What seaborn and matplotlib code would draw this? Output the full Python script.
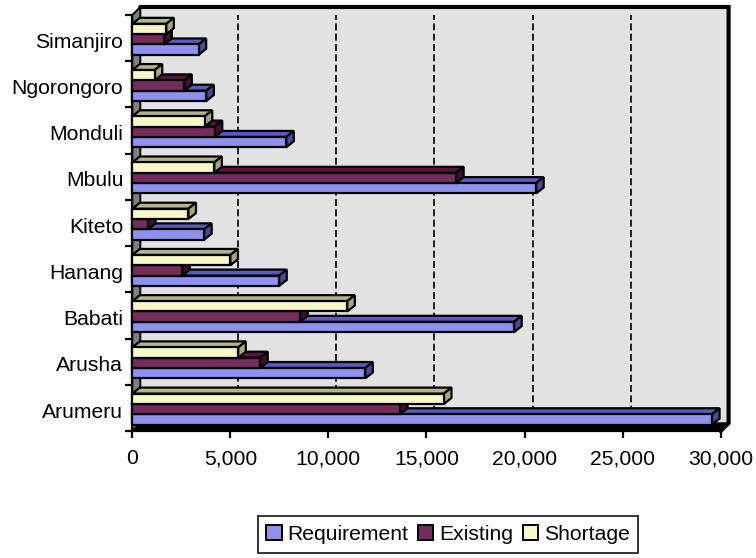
import matplotlib
matplotlib.use("Agg")
import matplotlib.pyplot as plt
from matplotlib.patches import Polygon
from matplotlib.ticker import FuncFormatter
from matplotlib.transforms import ScaledTranslation
import pandas as pd
import seaborn as sns

# Water demand per district
districts = ["Arumeru", "Arusha", "Babati", "Hanang", "Kiteto",
             "Mbulu", "Monduli", "Ngorongoro", "Simanjiro"]
requirement = [29560, 11880, 19470, 7490, 3660, 20590, 7850, 3770, 3380]
existing = [13650, 6520, 8560, 2550, 800, 16510, 4200, 2650, 1630]
shortage = [15890, 5400, 10960, 5000, 2860, 4180, 3690, 1140, 1733]
series_names = ["Requirement", "Existing", "Shortage"]
x_ticks = [0, 5000, 10000, 15000, 20000, 25000, 30000]

front_colors = ["#8080FF", "#802060", "#FFFFC0"]
top_colors = ["#5C5CB8", "#551540", "#B4B48C"]
side_colors = ["#4A4A9A", "#400F30", "#A6A67C"]

W, H = 756, 558
LEFT, RIGHT, TOP, BOTTOM = 132.3, 720.6, 15, 431
WALL_DEPTH = 8.0
BAR_DX, BAR_DY = 7.6, 6.0
BAR_SHIFT = 1.2
EDGE = 1.6
FONT = 15.2

sns.set_theme(style="white")
plt.rcParams["font.family"] = ["Liberation Sans", "DejaVu Sans"]
plt.rcParams["text.color"] = "black"

frame = pd.DataFrame({
    "District": districts * 3,
    "Series": sum(([n] * len(districts) for n in series_names), []),
    "Value": requirement + existing + shortage,
})

fig = plt.figure(figsize=(W / 100, H / 100), dpi=100)
ax = fig.add_axes([LEFT / W, 1 - BOTTOM / H, (RIGHT - LEFT) / W, (BOTTOM - TOP) / H])

sns.barplot(data=frame, y="District", x="Value", hue="Series", order=districts,
            hue_order=series_names, palette=front_colors, orient="h", width=0.67,
            gap=0, edgecolor="black", linewidth=EDGE, errorbar=None, ax=ax, zorder=3)

ax.set_xlim(0, 30000)
ax.set_ylim(-0.5, len(districts) - 0.5)
ax.set_xlabel("")
ax.set_ylabel("")

# Pixel-to-data scale factors for the oblique projection
ux = 30000 / (RIGHT - LEFT)
uy = len(districts) / (BOTTOM - TOP)
wx, wy = WALL_DEPTH * ux, WALL_DEPTH * uy
bx, by = BAR_DX * ux, BAR_DY * uy
y0, y1 = -0.5, len(districts) - 0.5


def face(points, color, z, lw=EDGE, edge="black"):
    ax.add_patch(Polygon(points, closed=True, facecolor=color, edgecolor=edge,
                         linewidth=lw, zorder=z, clip_on=False, joinstyle="miter"))


# Chart box: back wall, left wall and floor
face([(wx, y0 + wy), (30000 + wx, y0 + wy), (30000 + wx, y1 + wy), (wx, y1 + wy)],
     "#E2E2E2", 0.5, lw=0)
face([(0, y0), (wx, y0 + wy), (wx, y1 + wy), (0, y1)], "#808080", 0.7, lw=1.4)
face([(0, y0), (30000, y0), (30000 + wx, y0 + wy), (wx, y0 + wy)], "black", 0.8, lw=1)
ax.plot([wx, 30000 + wx, 30000 + wx, 30000], [y1 + wy, y1 + wy, y0 + wy, y0],
        color="black", lw=3, zorder=1, clip_on=False, solid_joinstyle="miter")

for tick in x_ticks[1:-1]:
    ax.plot([tick + wx, tick + wx], [y0 + wy, y1 + wy], color="black", lw=1.2,
            dashes=(4.2, 2), zorder=0.9)

# Extrude each bar with top and side faces
for s, container in enumerate(ax.containers):
    for bar in container:
        bar.set_y(bar.get_y() - BAR_SHIFT * uy)
        b, h, w = bar.get_y(), bar.get_height(), bar.get_width()
        z = 3 + (b + 1) + s * 0.01
        bar.set_zorder(z + 0.002)
        bar.set_clip_on(False)
        face([(0, b + h), (w, b + h), (w + bx, b + h + by), (bx, b + h + by)], top_colors[s], z)
        face([(w, b), (w + bx, b + by), (w + bx, b + h + by), (w, b + h)], side_colors[s], z + 0.001)

for side in ("top", "right"):
    ax.spines[side].set_visible(False)
for side in ("left", "bottom"):
    ax.spines[side].set_visible(True)
    ax.spines[side].set_color("black")
    ax.spines[side].set_linewidth(EDGE)

ax.set_yticks([i - 0.5 for i in range(len(districts) + 1)], minor=True)
ax.tick_params(axis="y", which="minor", left=True, length=5, width=EDGE, color="black")
ax.tick_params(axis="y", which="major", left=False, length=0, pad=6.5, labelsize=FONT,
               labelcolor="black")
ax.set_xticks(x_ticks)
ax.xaxis.set_major_formatter(FuncFormatter(lambda v, _: f"{int(v):,}"))
ax.tick_params(axis="x", which="major", bottom=True, length=5, width=EDGE, color="black",
               pad=8, labelsize=FONT, labelcolor="black")
ax.set_facecolor("none")

# District names sit slightly below the category centres
label_offset = ScaledTranslation(0, -2.2 / 100, fig.dpi_scale_trans)
for label in ax.get_yticklabels():
    label.set_transform(label.get_transform() + label_offset)

legend = ax.legend(loc="center", bbox_to_anchor=(448 / W, 1 - 534.5 / H),
                   bbox_transform=fig.transFigure, ncol=3, frameon=True, fancybox=False,
                   edgecolor="black", fontsize=FONT, handlelength=0.72, handleheight=0.72,
                   handletextpad=0.28, columnspacing=0.45, borderpad=0.42, borderaxespad=0)
legend.get_frame().set_linewidth(1.4)
for text in legend.get_texts():
    text.set_color("black")
for handle in legend.get_patches():
    handle.set_edgecolor("black")
    handle.set_linewidth(1.4)

fig.savefig("out.png", dpi=100)
